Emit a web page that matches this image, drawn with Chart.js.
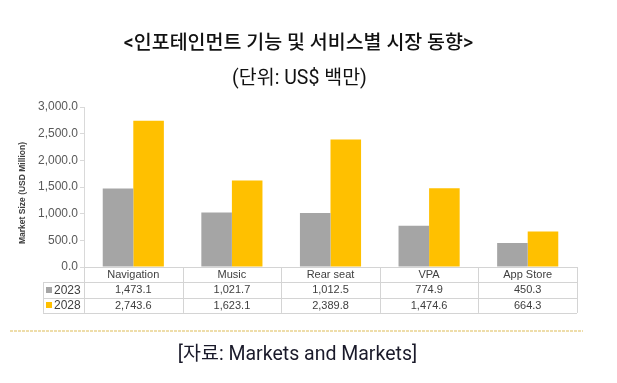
<!DOCTYPE html>
<html>
<head>
<meta charset="utf-8">
<script src="https://cdn.jsdelivr.net/npm/chart.js@4"></script>
<style>
html,body{margin:0;padding:0;background:#fff;}
#wrap{position:absolute;left:0;top:0;width:617px;height:383px;}
</style>
</head>
<body>
<div id="wrap"><canvas id="c" width="617" height="383"></canvas></div>
<script>
const categories = ['Navigation', 'Music', 'Rear seat', 'VPA', 'App Store'];
const seriesNames = ['2023', '2028'];
const values2023 = [1473.1, 1021.7, 1012.5, 774.9, 450.3];
const values2028 = [2743.6, 1623.1, 2389.8, 1474.6, 664.3];
const yTicks = [0, 500, 1000, 1500, 2000, 2500, 3000];
const titleText = '<인포테인먼트 기능 및 서비스별 시장 동향>';
const subtitleText = '(단위: US$ 백만)';
const yAxisTitle = 'Market Size (USD Million)';
const sourceText = '[자료: Markets and Markets]';

const colors = ['#a5a5a5', '#ffc000'];
const fmt = v => v.toLocaleString('en-US', {minimumFractionDigits: 1, maximumFractionDigits: 1});

const tablePlugin = {
  id: 'tablePlugin',
  afterDraw(chart) {
    const ctx = chart.ctx;
    const xs = chart.scales.x;
    const ca = chart.chartArea;
    const n = categories.length;
    const cw = (xs.right - xs.left) / n;
    const top = ca.bottom;
    const rh = 15.3;
    const r1 = top + rh, r2 = top + 2 * rh, r3 = top + 3 * rh;
    const leftCol = 43;
    ctx.save();
    ctx.strokeStyle = '#d4d4d4';
    ctx.lineWidth = 1;
    ctx.beginPath();
    [r1, r2, r3].forEach(y => { ctx.moveTo(leftCol, Math.round(y) + 0.5); ctx.lineTo(xs.right, Math.round(y) + 0.5); });
    for (let i = 0; i <= n; i++) {
      const x = Math.round(xs.left + i * cw) + 0.5;
      ctx.moveTo(x, top); ctx.lineTo(x, r3);
    }
    ctx.moveTo(leftCol + 0.5, r1); ctx.lineTo(leftCol + 0.5, r3);
    ctx.stroke();

    ctx.fillStyle = '#404040';
    ctx.font = '11px "Liberation Sans", Arial, sans-serif';
    ctx.textAlign = 'center';
    ctx.textBaseline = 'middle';
    const rows = [values2023, values2028];
    categories.forEach((c, i) => {
      const cx = xs.getPixelForValue(i);
      ctx.fillText(c, cx, top + rh / 2 + 0.5);
      rows.forEach((r, j) => ctx.fillText(fmt(r[i]), cx, top + rh * (j + 1.5) + 0.5));
    });
    seriesNames.forEach((s, j) => {
      const cy = top + rh * (j + 1.5);
      ctx.fillStyle = colors[j];
      ctx.fillRect(46, Math.round(cy - 3), 6, 6);
      ctx.fillStyle = '#404040';
      ctx.textAlign = 'left';
      ctx.font = '12px "Liberation Sans", Arial, sans-serif';
      ctx.fillText(s, 54, cy + 0.5);
    });

    ctx.save();
    ctx.translate(23, 193);
    ctx.rotate(-Math.PI / 2);
    ctx.fillStyle = '#404040';
    ctx.font = 'bold 8.5px "Liberation Sans Narrow", "Liberation Sans", Arial, sans-serif';
    ctx.textAlign = 'center';
    ctx.textBaseline = 'middle';
    ctx.fillText(yAxisTitle, 0, 0);
    ctx.restore();

    ctx.fillStyle = '#111';
    ctx.textAlign = 'center';
    ctx.textBaseline = 'middle';
    ctx.font = '500 19.5px Roboto, "Noto Sans CJK KR", sans-serif';
    ctx.fillText(titleText, 298.5, 44);
    ctx.font = '19.5px Roboto, "Noto Sans CJK KR", sans-serif';
    ctx.fillText(subtitleText, 299.5, 79);

    ctx.strokeStyle = '#e9d28e';
    ctx.lineWidth = 1.5;
    ctx.setLineDash([3, 1]);
    ctx.beginPath();
    ctx.moveTo(10, 331); ctx.lineTo(583, 331);
    ctx.stroke();
    ctx.setLineDash([]);

    ctx.fillStyle = '#1a1a2a';
    ctx.font = '19.5px Roboto, "Noto Sans CJK KR", sans-serif';
    ctx.fillText(sourceText, 297.5, 355);
    ctx.restore();
  }
};

new Chart(document.getElementById('c'), {
  type: 'bar',
  data: {
    labels: categories,
    datasets: [
      { label: seriesNames[0], data: values2023, backgroundColor: colors[0] },
      { label: seriesNames[1], data: values2028, backgroundColor: colors[1] }
    ]
  },
  options: {
    responsive: false,
    animation: false,
    devicePixelRatio: 1,
    layout: { padding: { left: 0, right: 40, top: 107, bottom: 116 } },
    datasets: { bar: { categoryPercentage: 0.62, barPercentage: 1.0 } },
    plugins: { legend: { display: false }, tooltip: { enabled: false }, title: { display: false } },
    scales: {
      x: {
        display: true,
        ticks: { display: false },
        grid: { display: false, drawTicks: false },
        border: { color: '#d4d4d4' }
      },
      y: {
        min: 0, max: 3000,
        afterFit(s) { s.width = 84; },
        afterBuildTicks(s) { s.ticks = yTicks.map(v => ({ value: v })); },
        ticks: {
          padding: 2,
          color: '#595959',
          font: { family: '"Liberation Sans", Arial, sans-serif', size: 12 },
          callback: v => fmt(v)
        },
        grid: { drawOnChartArea: false, drawTicks: true, tickLength: 4, color: '#d9d9d9' },
        border: { color: '#d9d9d9' }
      }
    }
  },
  plugins: [tablePlugin]
});
</script>
</body>
</html>
